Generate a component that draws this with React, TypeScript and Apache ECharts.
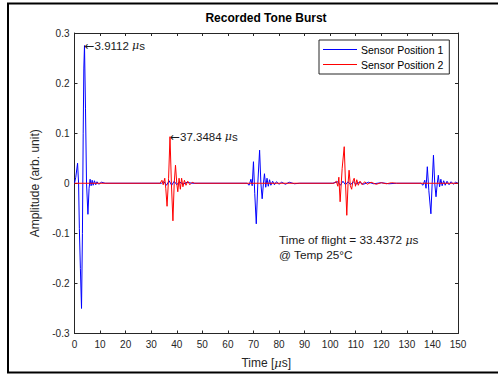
import React, { useEffect, useRef } from "react";
import * as echarts from "echarts";

// ---- data ----
const sensor1Time = [
  0, 0.5, 1.2, 1.6, 1.9, 2.3, 2.75, 3.1, 3.4, 3.65, 3.91, 4.3, 4.7, 5.25, 5.7, 6.1, 6.5, 6.9, 7.3, 7.8, 8.3, 8.8, 9.5, 10.5, 12,
  34, 35, 36, 37, 38, 39, 40, 41, 42.5, 44, 46,
  67.5, 68.3, 69.0, 69.5, 70.0, 70.5, 71.1, 71.7, 72.4, 72.9, 73.4, 73.9, 74.3, 74.8, 75.3, 75.8, 76.3, 76.8, 77.5, 78.2, 79, 80, 81, 82.5, 84, 86, 88,
  101, 103, 104, 105, 106, 107, 108, 109, 110, 111.5, 113, 115, 117, 120, 123, 126,
  135.5, 136.3, 137.0, 137.5, 138.0, 138.6, 139.4, 139.9, 140.4, 140.9, 141.4, 141.9, 142.3, 142.8, 143.3, 143.8, 144.4, 145, 145.7, 146.5, 147.3, 148.2, 149, 150,
];
const sensor1Amp = [
  0, 0.012, 0.04, 0.0, -0.09, -0.17, -0.25, -0.1, 0.1, 0.23, 0.275, 0.15, 0.0, -0.062, -0.01, 0.008, -0.005, 0.006, -0.004, 0.005, -0.003, 0.003, -0.002, 0.002, 0,
  0, 0.003, -0.004, 0.005, -0.004, 0.004, -0.003, 0.003, -0.002, 0.002, 0,
  0, -0.004, 0.008, -0.005, 0.043, -0.02, -0.081, 0.0, 0.066, 0.0, -0.031, 0.0, 0.019, -0.008, 0.01, -0.006, 0.007, -0.004, 0.004, -0.003, 0.003, -0.002, 0.002, -0.002, 0.002, -0.001, 0,
  0, 0.003, -0.004, 0.004, -0.003, 0.003, -0.003, 0.003, -0.002, 0.002, -0.002, 0.002, -0.001, 0.001, -0.001, 0,
  0, -0.004, 0.006, -0.01, 0.033, -0.015, -0.061, 0.0, 0.056, 0.0, -0.027, 0.0, 0.016, -0.007, 0.008, -0.005, 0.005, -0.004, 0.004, -0.003, 0.003, -0.002, 0.002, 0,
];
const sensor2Time = [
  0, 33.5, 34.2, 34.7, 35.3, 35.7, 36.2, 36.8, 37.35, 37.9, 38.5, 39.0, 39.5, 40.0, 40.4, 40.9, 41.4, 41.9, 42.4, 43, 43.6, 44.3, 45.1, 46, 47,
  101.5, 102.4, 103.0, 103.4, 103.9, 104.7, 105.5, 106.0, 106.5, 107.0, 107.4, 107.9, 108.4, 108.9, 109.4, 109.9, 110.4, 111, 111.7, 112.5, 113.5, 114.5, 116, 118, 120, 122, 124, 126, 150,
];
const sensor2Amp = [
  0, 0, 0.006, -0.003, 0.01, -0.01, -0.046, 0.01, 0.093, 0.0, -0.075, 0.0, 0.036, 0.0, -0.017, 0.01, -0.012, 0.01, -0.007, 0.006, -0.004, 0.004, -0.003, 0.002, 0,
  0, 0.004, -0.006, 0.012, -0.037, 0.03, 0.073, 0.0, -0.064, 0.0, 0.026, -0.005, -0.012, 0.004, 0.01, -0.006, 0.007, -0.004, 0.004, -0.003, 0.003, -0.002, 0.002, -0.002, 0.001, -0.001, 0.001, 0, 0,
];
const seriesNames = ["Sensor Position 1", "Sensor Position 2"];
const seriesColors = ["#0000ff", "#ff0000"];
const peak1 = [3.9112, 0.275];
const peak2 = [37.3484, 0.093];
const timeOfFlight = "33.4372";
const temperature = "25°C";
const xTicks = { min: 0, max: 150, interval: 10 };
const yTicks = { min: -0.3, max: 0.3, interval: 0.1 };

const FONT = "'Liberation Sans', Arial, Helvetica, sans-serif";
const AX = "#262626";
const TXT = "#1a1a1a";

export default function App() {
  const ref = useRef<HTMLDivElement>(null);
  useEffect(() => {
    if (!ref.current) return;
    const chart = echarts.init(ref.current, undefined, { renderer: "svg" });
    const d1 = sensor1Time.map((t, i) => [t, sensor1Amp[i]]);
    const d2 = sensor2Time.map((t, i) => [t, sensor2Amp[i]]);
    const annRich = {
      a: { fontFamily: "'DejaVu Sans', sans-serif", fontSize: 12, color: TXT },
      i: { fontStyle: "italic", fontFamily: "'DejaVu Serif', serif", fontSize: 11, color: TXT },
    };
    const baseX = {
      type: "value",
      min: xTicks.min,
      max: xTicks.max,
      interval: xTicks.interval,
      splitLine: { show: false },
      axisLine: { show: true, onZero: false, lineStyle: { color: AX, width: 1 } },
      axisTick: { show: true, inside: true, length: 3, lineStyle: { color: AX } },
    };
    const baseY = {
      type: "value",
      min: yTicks.min,
      max: yTicks.max,
      interval: yTicks.interval,
      splitLine: { show: false },
      axisLine: { show: true, onZero: false, lineStyle: { color: AX, width: 1 } },
      axisTick: { show: true, inside: true, length: 3, lineStyle: { color: AX } },
    };
    const annLabel = (p: number[]) => ({
      show: true,
      position: "right",
      distance: 0,
      color: TXT,
      fontSize: 11.5,
      fontFamily: FONT,
      formatter: `{a|←}${p[0]} {i|μ}s`,
      rich: annRich,
    });
    chart.setOption({
      animation: false,
      backgroundColor: "#ffffff",
      textStyle: { fontFamily: FONT },
      grid: { left: 74.5, top: 33, width: 383.5, height: 300.5, containLabel: false },
      xAxis: [
        {
          ...baseX,
          position: "bottom",
          axisLabel: { color: AX, fontSize: 10, margin: 6, fontFamily: FONT },
          name: "Time [{i|μ}s]",
          nameLocation: "middle",
          nameGap: 23,
          nameTextStyle: {
            color: AX,
            fontSize: 12,
            fontFamily: FONT,
            rich: { i: { fontStyle: "italic", fontFamily: "'DejaVu Serif', serif", fontSize: 11.5, color: AX } },
          },
        },
        { ...baseX, position: "top", axisLabel: { show: false } },
      ],
      yAxis: [
        {
          ...baseY,
          position: "left",
          axisLabel: {
            color: AX,
            fontSize: 10,
            margin: 5,
            fontFamily: FONT,
            formatter: (v: number) => (Math.abs(v) < 1e-9 ? "0" : String(Math.round(v * 10) / 10)),
          },
          name: "Amplitude (arb. unit)",
          nameLocation: "middle",
          nameGap: 29,
          nameTextStyle: { color: AX, fontSize: 12, fontFamily: FONT },
        },
        { ...baseY, position: "right", axisLabel: { show: false } },
      ],
      legend: {
        orient: "vertical",
        left: 319,
        top: 40,
        data: seriesNames.map((n, i) => ({ name: n, icon: "rect", itemStyle: { color: seriesColors[i] } })),
        icon: "rect",
        itemWidth: 34,
        itemHeight: 1,
        itemGap: 2,
        padding: [3, 6, 3, 4],
        borderColor: AX,
        borderWidth: 1,
        backgroundColor: "#ffffff",
        textStyle: { color: "#000", fontSize: 10.5, lineHeight: 13, fontFamily: FONT, padding: [0, 0, 0, -1] },
      },
      series: [
        {
          name: seriesNames[0],
          type: "line",
          data: d1,
          symbol: "none",
          showSymbol: false,
          lineStyle: { color: seriesColors[0], width: 1 },
          itemStyle: { color: seriesColors[0] },
          z: 2,
          markPoint: { symbol: "circle", symbolSize: 0, data: [{ coord: peak1, label: annLabel(peak1) }] },
        },
        {
          name: seriesNames[1],
          type: "line",
          data: d2,
          symbol: "none",
          showSymbol: false,
          lineStyle: { color: seriesColors[1], width: 1 },
          itemStyle: { color: seriesColors[1] },
          z: 3,
          markPoint: { symbol: "circle", symbolSize: 0, data: [{ coord: peak2, label: annLabel(peak2) }] },
        },
      ],
      graphic: [
        {
          type: "text",
          x: 266,
          y: 18,
          style: {
            text: "Recorded Tone Burst",
            align: "center",
            verticalAlign: "middle",
            font: `bold 12px ${FONT}`,
            fill: "#000",
          },
        },
        {
          type: "text",
          x: 279,
          y: 232.5,
          style: {
            text: `Time of flight = ${timeOfFlight} {i|μ}s\n@ Temp ${temperature}`,
            align: "left",
            verticalAlign: "top",
            fontSize: 11.8,
            fontFamily: FONT,
            lineHeight: 15,
            fill: TXT,
            rich: { i: { fontStyle: "italic", fontFamily: "'DejaVu Serif', serif", fontSize: 11, fill: TXT, lineHeight: 15 } },
          },
        },
        {
          type: "rect",
          shape: { x: 8, y: 3.5, width: 500, height: 369 },
          style: { fill: "none", stroke: "#000", lineWidth: 2 },
          z: 100,
        },
      ],
    });
    return () => chart.dispose();
  }, []);
  return <div ref={ref} style={{ position: "fixed", left: 0, top: 0, width: 498, height: 376 }} />;
}
